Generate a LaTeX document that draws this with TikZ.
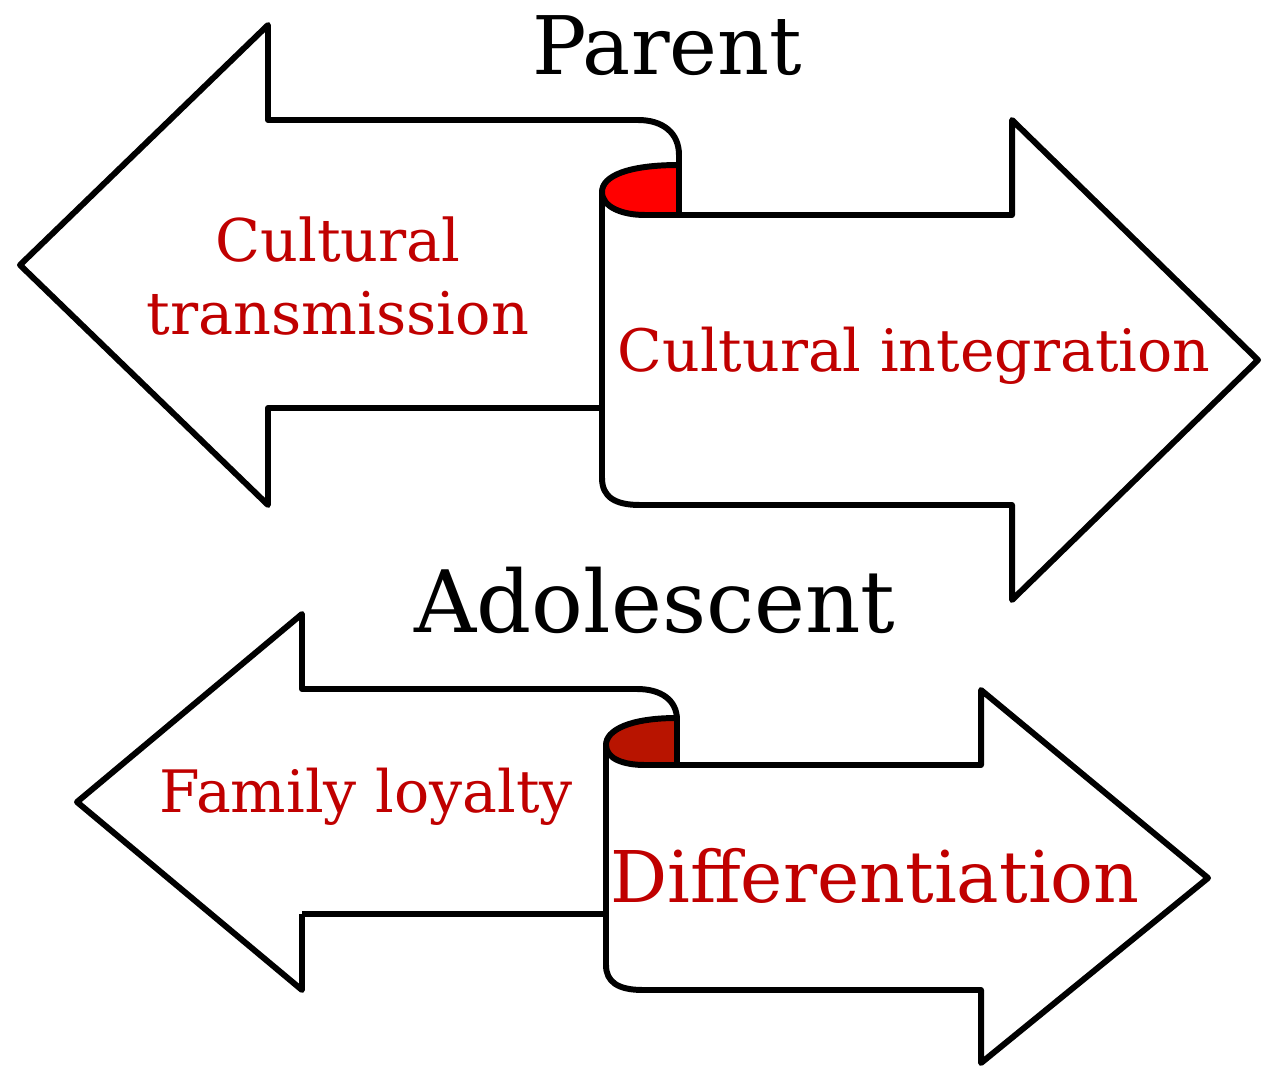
\documentclass[tikz,border=0pt]{standalone}
\usepackage{fontspec}
\setmainfont{DejaVu Serif}
\definecolor{txtred}{HTML}{C00000}
\definecolor{foldred}{HTML}{FF0000}
\definecolor{folddark}{HTML}{B81400}
\tikzset{
  arrowshape/.style={draw=black, fill=white, line width=3.4pt, line join=round},
  lbl/.style={text=txtred, anchor=base, inner sep=0pt},
  ttl/.style={text=black, anchor=base, inner sep=0pt}
}
\begin{document}
\begin{tikzpicture}[x=0.02cm, y=-0.02cm]
\useasboundingbox (0,0) rectangle (1274,1067);
\draw[arrowshape] (602,408) -- (268,408) -- (268,505) -- (20,265) -- (268,25) -- (268,120) -- (638,120) .. controls (663,120) and (679,133) .. (679,155) -- (679,215);
\draw[arrowshape] (645,215) -- (1012,215) -- (1012,120) -- (1258,360) -- (1012,600) -- (1012,505) -- (640,505) .. controls (615,505) and (602,497) .. (602,478) -- (602,190);
\draw[arrowshape, fill=foldred] (679,165) .. controls (628,165) and (602,176) .. (602,192) .. controls (602,207) and (622,215) .. (645,215) -- (679,215) -- cycle;
\draw[arrowshape] (302,914) -- (302,990) -- (77,802) -- (302,614) -- (302,689) -- (637,689) .. controls (661,689) and (677,700) .. (677,720) -- (677,765);
\draw[arrowshape] (645,765) -- (981,765) -- (981,690) -- (1208,878) -- (981,1063) -- (981,990) -- (643,990) .. controls (618,990) and (606,982) .. (606,965) -- (606,745);
\draw[arrowshape] (606,914) -- (302,914);
\draw[arrowshape, fill=folddark] (677,718) .. controls (630,718) and (606,730) .. (606,745) .. controls (606,759) and (624,765) .. (645,765) -- (677,765) -- cycle;
\node[ttl, font=\fontsize{46}{52}\selectfont] (parent) at (667,75) {Parent};
\node[ttl, font=\fontsize{49}{56}\selectfont] (adol) at (655,632) {Adolescent};
\node[lbl, font=\fontsize{33.5}{40}\selectfont] (cult) at (338,262) {Cultural};
\node[lbl, font=\fontsize{33.5}{40}\selectfont] (trans) at (338,335) {transmission};
\node[lbl, font=\fontsize{33.3}{40}\selectfont] (integ) at (914,372) {Cultural integration};
\node[lbl, font=\fontsize{33.3}{40}\selectfont] (loyal) at (366,812) {Family loyalty};
\node[lbl, font=\fontsize{40.6}{48}\selectfont] (diff) at (875,902) {Differentiation};
\end{tikzpicture}
\end{document}
